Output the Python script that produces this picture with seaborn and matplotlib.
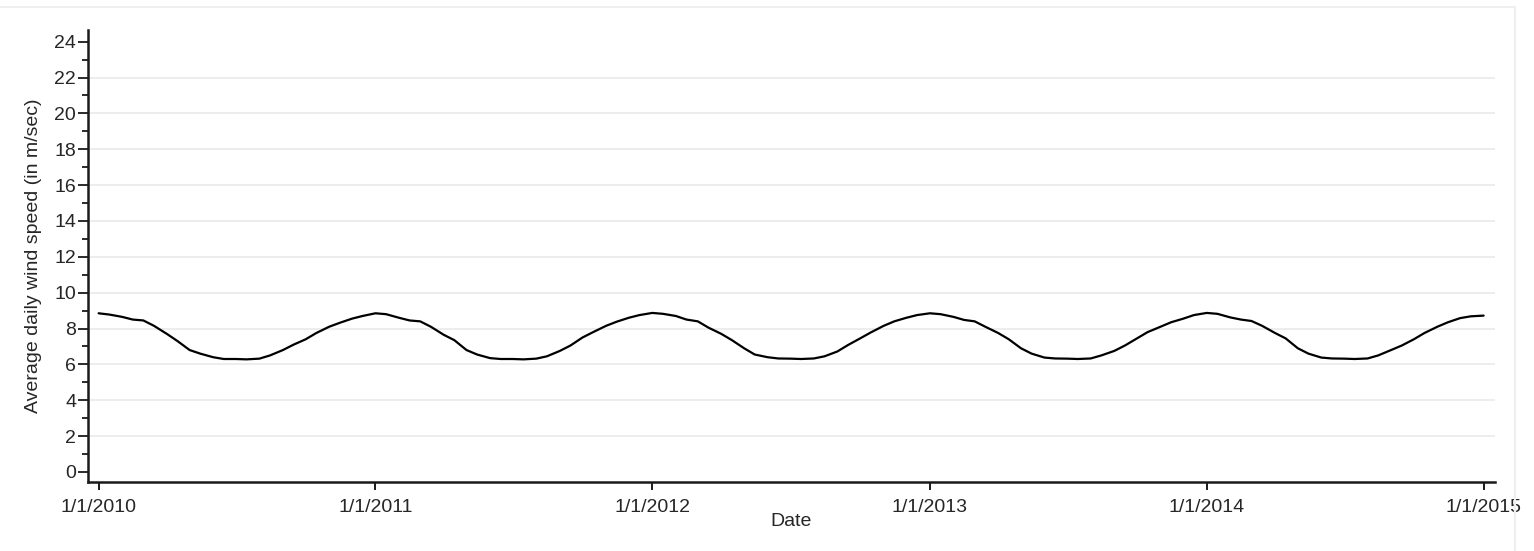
import matplotlib
matplotlib.use("Agg")
import matplotlib.pyplot as plt
from matplotlib.lines import Line2D
from matplotlib.ticker import MultipleLocator
import numpy as np
import pandas as pd
import seaborn as sns

# Sample dates within each year (1st and 15th of every month)
month_days = ["01-01", "01-15", "02-01", "02-15", "03-01", "03-15",
              "04-01", "04-15", "05-01", "05-15", "06-01", "06-15",
              "07-01", "07-15", "08-01", "08-15", "09-01", "09-15",
              "10-01", "10-15", "11-01", "11-15", "12-01", "12-15"]

# Average daily wind speed (m/sec) on those dates
speed_2010 = [8.85, 8.78, 8.65, 8.50, 8.45, 8.15, 7.70, 7.30, 6.80, 6.60, 6.40, 6.30,
              6.30, 6.28, 6.32, 6.50, 6.80, 7.10, 7.40, 7.75, 8.10, 8.32, 8.55, 8.70]
speed_2011 = [8.85, 8.80, 8.60, 8.45, 8.40, 8.10, 7.65, 7.35, 6.80, 6.55, 6.35, 6.30,
              6.30, 6.28, 6.32, 6.45, 6.75, 7.05, 7.50, 7.80, 8.15, 8.38, 8.60, 8.75]
speed_2012 = [8.87, 8.82, 8.70, 8.50, 8.40, 8.05, 7.70, 7.35, 6.90, 6.55, 6.40, 6.33,
              6.32, 6.30, 6.33, 6.45, 6.72, 7.08, 7.45, 7.78, 8.15, 8.40, 8.60, 8.75]
speed_2013 = [8.85, 8.80, 8.65, 8.48, 8.40, 8.10, 7.75, 7.40, 6.90, 6.60, 6.38, 6.33,
              6.32, 6.30, 6.33, 6.50, 6.75, 7.05, 7.45, 7.80, 8.10, 8.35, 8.55, 8.75]
speed_2014 = [8.87, 8.82, 8.62, 8.50, 8.42, 8.15, 7.75, 7.45, 6.90, 6.60, 6.38, 6.33,
              6.32, 6.30, 6.33, 6.50, 6.80, 7.05, 7.40, 7.75, 8.10, 8.35, 8.58, 8.68]
last_date = "2015-01-01"
last_speed = 8.72

tick_dates = ["2010-01-01", "2011-01-01", "2012-01-01",
              "2013-01-01", "2014-01-01", "2015-01-01"]
tick_labels = ["1/1/2010", "1/1/2011", "1/1/2012", "1/1/2013", "1/1/2014", "1/1/2015"]

yearly = {2010: speed_2010, 2011: speed_2011, 2012: speed_2012,
          2013: speed_2013, 2014: speed_2014}
dates, speeds = [], []
for year, vals in yearly.items():
    dates += [f"{year}-{md}" for md in month_days]
    speeds += vals
dates.append(last_date)
speeds.append(last_speed)
df = pd.DataFrame({"date": pd.to_datetime(dates), "speed": speeds})

sns.set_style("white")
plt.rcParams["font.family"] = ["Liberation Sans", "DejaVu Sans"]
text_color = "#262626"
fs = 14

fig = plt.figure(figsize=(15.34, 5.51), dpi=100)
ax = fig.add_axes([88 / 1534, 1 - 482 / 551, (1495 - 88) / 1534, (482 - 30) / 551])

sns.lineplot(data=df, x="date", y="speed", color="black", linewidth=1.6, ax=ax)

ax.set_xlim(pd.Timestamp("2009-12-18"), pd.Timestamp("2015-01-16"))
ax.set_ylim(-0.56, 24.65)

ax.set_xticks(pd.to_datetime(tick_dates))
ax.set_xticklabels(tick_labels)
ax.set_yticks(np.arange(0, 25, 2))
ax.yaxis.set_minor_locator(MultipleLocator(1))

ax.tick_params(axis="x", which="major", direction="out", length=6, width=1.4,
               color="#1a1a1a", labelsize=fs, labelcolor=text_color, pad=6, bottom=True)
ax.tick_params(axis="y", which="major", direction="out", length=7, width=1.3,
               color="#1a1a1a", labelsize=fs, labelcolor=text_color, pad=1.5, left=True)
ax.tick_params(axis="y", which="minor", direction="out", length=4, width=1.3,
               color="#1a1a1a", left=True)

ax.yaxis.grid(True, color="#ececec", linewidth=1.3)
for val, gl in zip(ax.get_yticks(), ax.get_ygridlines()):
    if val in (0, 24):
        gl.set_visible(False)
ax.xaxis.grid(False)

for side in ("top", "right"):
    ax.spines[side].set_visible(False)
for side in ("left", "bottom"):
    ax.spines[side].set_color("#1a1a1a")
    ax.spines[side].set_linewidth(1.8)

ax.set_xlabel("Date", fontsize=fs, color=text_color, labelpad=-2)
ax.set_ylabel("Average daily wind speed (in m/sec)", fontsize=fs,
              color=text_color, labelpad=9)

# faint outer frame
fig.add_artist(Line2D([0, 1515 / 1534], [1 - 7 / 551, 1 - 7 / 551],
                      transform=fig.transFigure, color="#efefef", linewidth=1.5))
fig.add_artist(Line2D([1515 / 1534, 1515 / 1534], [0, 1 - 7 / 551],
                      transform=fig.transFigure, color="#efefef", linewidth=1.5))

fig.savefig("out.png", dpi=100, facecolor="white")
